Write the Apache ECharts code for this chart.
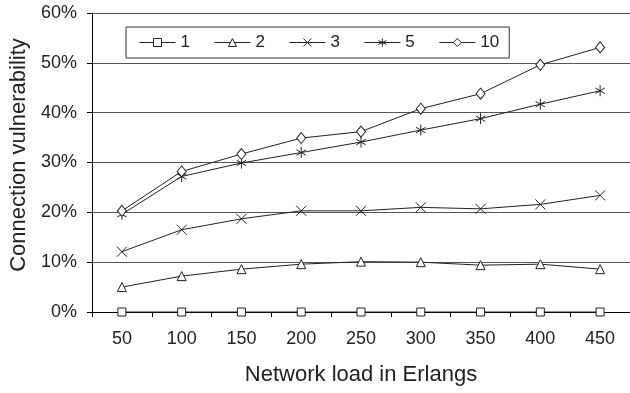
<!DOCTYPE html>
<html>
<head>
<meta charset="utf-8">
<script src="https://cdn.jsdelivr.net/npm/echarts@6/dist/echarts.min.js"></script>
<style>
  html, body { margin: 0; padding: 0; background: #fff; }
  #chart { width: 630px; height: 393px; }
</style>
</head>
<body>
<div id="chart"></div>
<script>
// Network load (Erlangs) on the x axis
const loads = ['50', '100', '150', '200', '250', '300', '350', '400', '450'];

// Connection vulnerability (%) per series
const s1 = [0, 0, 0, 0, 0, 0, 0, 0, 0];
const s2 = [5.0, 7.2, 8.6, 9.6, 10.1, 10.0, 9.4, 9.6, 8.6];
const s3 = [12.1, 16.5, 18.7, 20.3, 20.3, 21.0, 20.7, 21.6, 23.4];
const s5 = [19.6, 27.2, 29.9, 32.0, 34.1, 36.5, 38.8, 41.7, 44.4];
const s10 = [20.3, 28.2, 31.7, 34.9, 36.2, 40.8, 43.8, 49.6, 53.1];

const seriesNames = ['1', '2', '3', '5', '10'];
const seriesData = [s1, s2, s3, s5, s10];

const FONT = '"Liberation Sans", Arial, sans-serif';
const INK = '#222';

const symbols = [
  { symbol: 'rect', size: 8, keep: false },
  { symbol: 'triangle', size: 9, keep: false },
  { symbol: 'path://M0,0L10,10M10,0L0,10', size: 10, keep: false },
  { symbol: 'path://M5,0L5,10M0.7,2.5L9.3,7.5M0.7,7.5L9.3,2.5', size: 11, keep: true },
  { symbol: 'diamond', size: [9, 11], keep: false }
];

const series = seriesNames.map((name, i) => ({
  name: name,
  type: 'line',
  data: seriesData[i],
  symbol: symbols[i].symbol,
  symbolSize: symbols[i].size,
  symbolKeepAspect: symbols[i].keep,
  showAllSymbol: true,
  lineStyle: { color: INK, width: 1 },
  itemStyle: { color: '#fff', borderColor: INK, borderWidth: 1 },
  emphasis: { disabled: true },
  z: 3 + i
}));

const chart = echarts.init(document.getElementById('chart'), null, { renderer: 'canvas' });
chart.setOption({
  animation: false,
  backgroundColor: '#fff',
  textStyle: { fontFamily: FONT, color: INK },
  grid: { left: 89, right: 0, top: 13, bottom: 81, containLabel: false },
  legend: {
    data: seriesNames,
    left: 126,
    top: 27,
    orient: 'horizontal',
    itemWidth: 36,
    itemHeight: 10,
    itemGap: 24,
    padding: [7, 10, 7, 13],
    borderColor: '#333',
    borderWidth: 1,
    backgroundColor: '#fff',
    itemStyle: { color: '#fff', borderColor: INK, borderWidth: 1 },
    lineStyle: { color: INK, width: 1 },
    textStyle: { fontFamily: FONT, fontSize: 17, color: INK },
    selectedMode: false
  },
  xAxis: {
    type: 'category',
    data: loads,
    boundaryGap: true,
    name: 'Network load in Erlangs',
    nameLocation: 'middle',
    nameGap: 52,
    nameTextStyle: { fontFamily: FONT, fontSize: 22, color: INK },
    axisLine: { lineStyle: { color: '#000', width: 1 } },
    axisTick: { show: true, length: 5, lineStyle: { color: '#000' } },
    axisLabel: { fontFamily: FONT, fontSize: 18, color: INK, margin: 18 },
    splitLine: { show: false }
  },
  yAxis: {
    type: 'value',
    min: 0,
    max: 60,
    interval: 10,
    name: 'Connection vulnerability',
    nameLocation: 'middle',
    nameGap: 62,
    nameTextStyle: { fontFamily: FONT, fontSize: 22, color: INK, padding: [0, 0, 0, 15] },
    axisLine: { show: true, lineStyle: { color: '#000', width: 1 } },
    axisTick: { show: true, length: 5, lineStyle: { color: '#000' } },
    axisLabel: { fontFamily: FONT, fontSize: 18, color: INK, margin: 15, formatter: '{value}%' },
    splitLine: { show: true, lineStyle: { color: '#555', width: 1 } }
  },
  series: series
});
</script>
</body>
</html>
